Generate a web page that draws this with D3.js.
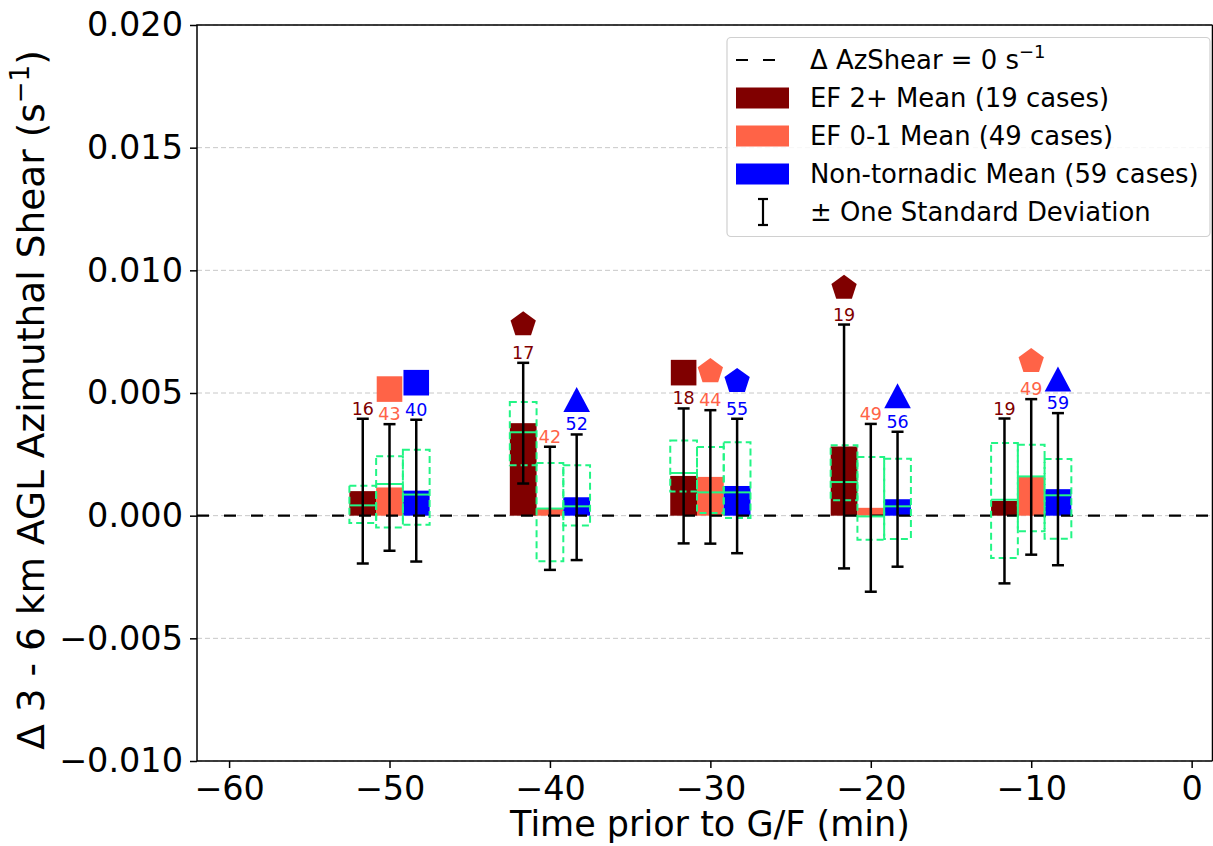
<!DOCTYPE html>
<html>
<head>
<meta charset="utf-8">
<script src="https://cdn.jsdelivr.net/npm/d3@7"></script>
<style>
  body { margin: 0; background: #fff; }
  svg { display: block; font-family: "DejaVu Sans", sans-serif; }
</style>
</head>
<body>
<div id="chart"></div>
<script>
// group times (min before G/F) and the three series
const times = [-50, -40, -30, -20, -10];
const seriesNames = ["EF 2+", "EF 0-1", "Non-tornadic"];
const seriesColors = ["#800000", "#ff6347", "#0000ff"];
const seriesOffsets = [-1.667, 0, 1.667];
const barWidth = 1.667;

// case counts shown above each error bar
const ef2Count = [16, 17, 18, 19, 19];
const ef01Count = [43, 42, 44, 49, 49];
const nonCount = [40, 52, 55, 56, 59];

// means and standard deviations (s^-1)
const ef2Mean = [0.00100, 0.00377, 0.00162, 0.00282, 0.00060];
const ef01Mean = [0.00115, 0.00030, 0.00158, 0.00032, 0.00158];
const nonMean = [0.00102, 0.00075, 0.00121, 0.00067, 0.00108];
const ef2Std = [0.00295, 0.00246, 0.00275, 0.00497, 0.00336];
const ef01Std = [0.00258, 0.00251, 0.00272, 0.00342, 0.00317];
const nonStd = [0.00289, 0.00256, 0.00274, 0.00275, 0.00310];

// quartile boxes: [q1, median, q3]
const ef2Box = [[-0.00030, 0.00042, 0.00122], [0.00205, 0.00340, 0.00463], [0.00099, 0.00174, 0.00306], [0.00063, 0.00137, 0.00287], [-0.00173, 0.00065, 0.00296]];
const ef01Box = [[-0.00048, 0.00129, 0.00242], [-0.00186, 0.00029, 0.00215], [0.00011, 0.00095, 0.00280], [-0.00098, -0.00003, 0.00239], [-0.00064, 0.00160, 0.00289]];
const nonBox = [[-0.00037, 0.00086, 0.00269], [-0.00040, 0.00038, 0.00205], [-0.00010, 0.00095, 0.00299], [-0.00095, 0.00038, 0.00232], [-0.00094, 0.00083, 0.00231]];

// significance markers: symbol name and y value (null = none)
const ef2Marker = [null, "pentagon", "square", "pentagon", null];
const ef01Marker = ["square", null, "pentagon", null, "pentagon"];
const nonMarker = ["square", "triangle", "pentagon", "triangle", "triangle"];
const ef2MarkerY = [null, 0.00779, 0.00583, 0.00928, null];
const ef01MarkerY = [0.00516, null, 0.00588, null, 0.00629];
const nonMarkerY = [0.00542, 0.00473, 0.00548, 0.00489, 0.00557];

const xTicks = [-60, -50, -40, -30, -20, -10, 0];
const yTicks = [-0.010, -0.005, 0.000, 0.005, 0.010, 0.015, 0.020];

const legendLabels = ["EF 2+ Mean (19 cases)", "EF 0-1 Mean (49 cases)", "Non-tornadic Mean (59 cases)"];

const counts = [ef2Count, ef01Count, nonCount];
const means = [ef2Mean, ef01Mean, nonMean];
const stds = [ef2Std, ef01Std, nonStd];
const boxes = [ef2Box, ef01Box, nonBox];
const markers = [ef2Marker, ef01Marker, nonMarker];
const markerYs = [ef2MarkerY, ef01MarkerY, nonMarkerY];

const W = 1213, H = 846;
const plot = { left: 197, right: 1212.5, top: 25, bottom: 761 };
const boxGreen = "#22f585";

const svg = d3.select("#chart").append("svg")
  .attr("width", W).attr("height", H);

const x = d3.scaleLinear().domain([-62, 1.3]).range([plot.left, plot.right]);
const y = d3.scaleLinear().domain([-0.010, 0.020]).range([plot.bottom, plot.top]);

// flatten into one record per bar
var records = [];
seriesNames.forEach(function (name, s) {
  times.forEach(function (t, i) {
    records.push({
      s: s,
      t: t + seriesOffsets[s],
      mean: means[s][i],
      std: stds[s][i],
      box: boxes[s][i],
      count: counts[s][i],
      marker: markers[s][i],
      markerY: markerYs[s][i]
    });
  });
});

// grid lines
svg.append("g")
  .selectAll("line")
  .data(yTicks)
  .enter()
  .append("line")
  .attr("x1", plot.left).attr("x2", plot.right)
  .attr("y1", (d) => y(d)).attr("y2", (d) => y(d))
  .attr("stroke", "#c8c8c8")
  .attr("stroke-width", 1)
  .attr("stroke-dasharray", "5,3");

// bars
svg.append("g")
  .selectAll("rect")
  .data(records)
  .enter()
  .append("rect")
  .attr("x", (d) => x(d.t - barWidth / 2))
  .attr("width", (d) => x(d.t + barWidth / 2) - x(d.t - barWidth / 2))
  .attr("y", (d) => y(Math.max(0, d.mean)))
  .attr("height", (d) => Math.abs(y(d.mean) - y(0)))
  .attr("fill", (d) => seriesColors[d.s]);

// zero line
svg.append("line")
  .attr("x1", plot.left).attr("x2", plot.right)
  .attr("y1", y(0)).attr("y2", y(0))
  .attr("stroke", "#000")
  .attr("stroke-width", 2.2)
  .attr("stroke-dasharray", "12,15");

// quartile boxes
var gBox = svg.append("g");
gBox.selectAll("rect")
  .data(records)
  .enter()
  .append("rect")
  .attr("x", (d) => x(d.t - barWidth / 2))
  .attr("width", (d) => x(d.t + barWidth / 2) - x(d.t - barWidth / 2))
  .attr("y", (d) => y(d.box[2]))
  .attr("height", (d) => y(d.box[0]) - y(d.box[2]))
  .attr("fill", "none")
  .attr("stroke", boxGreen)
  .attr("stroke-width", 2)
  .attr("stroke-dasharray", "7,4");
gBox.selectAll("line")
  .data(records)
  .enter()
  .append("line")
  .attr("x1", (d) => x(d.t - barWidth / 2))
  .attr("x2", (d) => x(d.t + barWidth / 2))
  .attr("y1", (d) => y(d.box[1]))
  .attr("y2", (d) => y(d.box[1]))
  .attr("stroke", boxGreen)
  .attr("stroke-width", 2);

// error bars
var gErr = svg.append("g").attr("stroke", "#000").attr("stroke-width", 2.5);
records.forEach(function (d) {
  var cx = x(d.t);
  var top = y(d.mean + d.std), bot = y(d.mean - d.std);
  gErr.append("line").attr("x1", cx).attr("x2", cx).attr("y1", top).attr("y2", bot);
  gErr.append("line").attr("x1", cx - 6).attr("x2", cx + 6).attr("y1", top).attr("y2", top);
  gErr.append("line").attr("x1", cx - 6).attr("x2", cx + 6).attr("y1", bot).attr("y2", bot);
});

// marker paths
function markerPath(type) {
  if (type === "square") {
    return "M-12.8,-12.8H12.8V12.8H-12.8Z";
  }
  if (type === "triangle") {
    return "M0,-12.5L13.3,12.5L-13.3,12.5Z";
  }
  var R = 13.3, pts = [];
  for (var k = 0; k < 5; k++) {
    var a = -Math.PI / 2 + (k * 2 * Math.PI) / 5;
    pts.push([R * Math.cos(a), R * Math.sin(a)]);
  }
  return "M" + pts.map((p) => p[0].toFixed(2) + "," + p[1].toFixed(2)).join("L") + "Z";
}

svg.append("g")
  .selectAll("path")
  .data(records.filter((d) => d.marker))
  .enter()
  .append("path")
  .attr("transform", (d) => "translate(" + x(d.t) + "," + y(d.markerY) + ")")
  .attr("d", (d) => markerPath(d.marker))
  .attr("fill", (d) => seriesColors[d.s]);

// count labels
svg.append("g")
  .selectAll("text")
  .data(records)
  .enter()
  .append("text")
  .attr("x", (d) => x(d.t))
  .attr("y", (d) => y(d.mean + d.std) - 4)
  .attr("text-anchor", "middle")
  .attr("font-size", 17.5)
  .attr("fill", (d) => seriesColors[d.s])
  .text((d) => d.count);

// axes
var yAxis = svg.append("g")
  .attr("transform", "translate(" + plot.left + ",0)")
  .call(d3.axisLeft(y).tickValues(yTicks).tickFormat(d3.format(".3f")).tickSize(7).tickPadding(7));
var xAxis = svg.append("g")
  .attr("transform", "translate(0," + plot.bottom + ")")
  .call(d3.axisBottom(x).tickValues(xTicks).tickFormat(d3.format("d")).tickSize(7).tickPadding(8));
[yAxis, xAxis].forEach(function (ax) {
  ax.select(".domain").remove();
  ax.selectAll(".tick line").attr("stroke", "#000").attr("stroke-width", 1.5);
  ax.selectAll(".tick text").attr("font-size", 33.5).attr("font-family", "DejaVu Sans").attr("fill", "#000");
});

// spines
svg.append("path")
  .attr("d", "M" + plot.right + "," + plot.top + "H" + plot.left + "V" + plot.bottom + "H" + plot.right)
  .attr("fill", "none")
  .attr("stroke", "#000")
  .attr("stroke-width", 1.5);
svg.append("line")
  .attr("x1", plot.right).attr("x2", plot.right)
  .attr("y1", plot.top).attr("y2", plot.bottom)
  .attr("stroke", "#000").attr("stroke-width", 1.5);

// axis titles
svg.append("text")
  .attr("x", 710).attr("y", 836)
  .attr("text-anchor", "middle")
  .attr("font-size", 35)
  .text("Time prior to G/F (min)");

var yTitle = svg.append("text")
  .attr("transform", "translate(44," + 400 + ") rotate(-90)")
  .attr("text-anchor", "middle")
  .attr("font-size", 37.5);
yTitle.append("tspan").text("Δ 3 - 6 km AGL Azimuthal Shear (s");
yTitle.append("tspan").attr("font-size", 26).attr("dy", -15).text("−1");
yTitle.append("tspan").attr("dy", 15).text(")");

// legend
var legend = svg.append("g").attr("font-size", 25.9);
legend.append("rect")
  .attr("x", 727).attr("y", 37.5)
  .attr("width", 483).attr("height", 199)
  .attr("rx", 4)
  .attr("fill", "#fff").attr("fill-opacity", 0.85)
  .attr("stroke", "#d0d0d0").attr("stroke-width", 1.2);

const rowY = [60, 98, 136, 174, 212];
const handleX0 = 736, handleX1 = 789, textX = 810;

legend.append("line")
  .attr("x1", handleX0).attr("x2", handleX1)
  .attr("y1", rowY[0]).attr("y2", rowY[0])
  .attr("stroke", "#000").attr("stroke-width", 2.2)
  .attr("stroke-dasharray", "12,15");
var t0 = legend.append("text").attr("x", textX).attr("y", rowY[0]).attr("dy", "0.36em");
t0.append("tspan").text("Δ AzShear = 0 s");
t0.append("tspan").attr("font-size", 18).attr("dy", -11).text("−1");

legendLabels.forEach(function (lab, s) {
  legend.append("rect")
    .attr("x", handleX0).attr("y", rowY[s + 1] - 10.5)
    .attr("width", handleX1 - handleX0).attr("height", 21)
    .attr("fill", seriesColors[s]);
  legend.append("text")
    .attr("x", textX).attr("y", rowY[s + 1]).attr("dy", "0.36em")
    .text(lab);
});

var ex = 763, ey = rowY[4];
var gLegErr = legend.append("g").attr("stroke", "#000").attr("stroke-width", 2.2);
gLegErr.append("line").attr("x1", ex).attr("x2", ex).attr("y1", ey - 13).attr("y2", ey + 13);
gLegErr.append("line").attr("x1", ex - 5).attr("x2", ex + 5).attr("y1", ey - 13).attr("y2", ey - 13);
gLegErr.append("line").attr("x1", ex - 5).attr("x2", ex + 5).attr("y1", ey + 13).attr("y2", ey + 13);
legend.append("text")
  .attr("x", textX).attr("y", ey).attr("dy", "0.36em")
  .text("± One Standard Deviation");
</script>
</body>
</html>
